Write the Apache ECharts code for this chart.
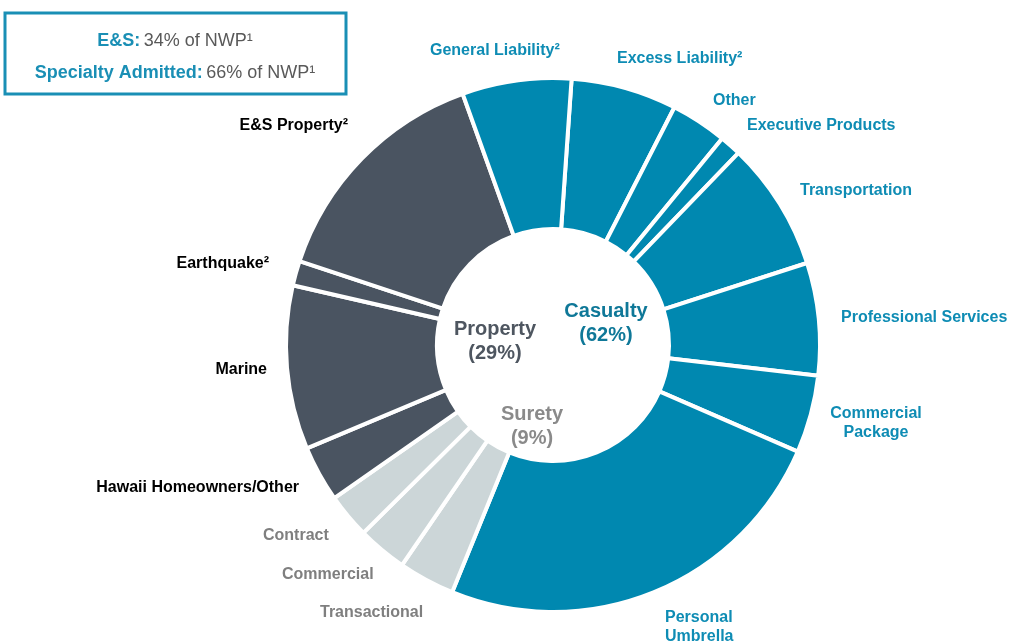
<!DOCTYPE html>
<html>
<head>
<meta charset="utf-8">
<script src="https://cdn.jsdelivr.net/npm/echarts@6/dist/echarts.min.js"></script>
<style>
html,body{margin:0;padding:0;background:#fff;}
#chart{width:1011px;height:643px;}
</style>
</head>
<body>
<div id="chart"></div>
<script>
// Segments, clockwise starting just right of 12 o'clock
const categories = ['Excess Liability²','Other','Executive Products','Transportation','Professional Services','Commercial\nPackage','Personal\nUmbrella','Transactional','Commercial','Contract','Hawaii Homeowners/Other','Marine','Earthquake²','E&S Property²','General Liability²'];
const values = [6.4,3.4,1.3,7.8,6.8,4.7,24.6,3.4,3.0,2.7,3.4,9.9,1.5,14.4,6.6];
const groups = ['Casualty','Casualty','Casualty','Casualty','Casualty','Casualty','Casualty','Surety','Surety','Surety','Property','Property','Property','Property','Casualty'];
const groupNames = ['Property','Casualty','Surety'];
const groupShares = ['29%','62%','9%'];
const mixLabels = [['E&S:','34% of NWP¹'],['Specialty Admitted:','66% of NWP¹']];

const FONT = '"Liberation Sans", Arial, sans-serif';
const fill = {Casualty:'#0088B0', Property:'#4A5461', Surety:'#CCD6D8'};
const labelColor = {Casualty:'#0E8CB4', Property:'#000000', Surety:'#7F7F7F'};
const centerColor = {Casualty:'#0F7898', Property:'#4E5660', Surety:'#8A8A8A'};

// label anchor placement (layout only)
const labelPlace = {
  'Excess Liability²':[617,59,'left'],
  'Other':[713,101,'left'],
  'Executive Products':[747,126,'left'],
  'Transportation':[800,191,'left'],
  'Professional Services':[841,318,'left'],
  'Commercial\nPackage':[876,423,'center'],
  'Personal\nUmbrella':[665,627,'left'],
  'Transactional':[320,613,'left'],
  'Commercial':[282,575,'left'],
  'Contract':[263,536,'left'],
  'Hawaii Homeowners/Other':[299,488,'right'],
  'Marine':[267,370,'right'],
  'Earthquake²':[269,264,'right'],
  'E&S Property²':[348,126,'right'],
  'General Liability²':[430,51,'left']
};
const centerPlace = {Property:[495,341], Casualty:[606,323], Surety:[532,426]};

const data = categories.map((c,i)=>({
  name:c, value:values[i],
  itemStyle:{color:fill[groups[i]]},
  label:{color:labelColor[groups[i]]}
}));

const chart = echarts.init(document.getElementById('chart'), null, {renderer:'canvas'});

const graphics = [
  {type:'rect', shape:{x:5,y:13,width:341,height:81}, style:{fill:'none', stroke:'#1A8FB5', lineWidth:3}},
];
mixLabels.forEach((m,i)=>{
  graphics.push({type:'text', x:175, y:41+i*32, style:{
    text:'{b|'+m[0]+'} {n|'+m[1]+'}', align:'center', verticalAlign:'middle',
    rich:{b:{fontFamily:FONT,fontSize:18,fontWeight:'bold',fill:'#1A8FB5'}, n:{fontFamily:FONT,fontSize:18,fill:'#595959'}}
  }});
});
groupNames.forEach((g,i)=>{
  const p = centerPlace[g];
  graphics.push({type:'text', x:p[0], y:p[1], style:{
    text:g+'\n('+groupShares[i]+')', align:'center', verticalAlign:'middle',
    font:'bold 20px '+FONT, fill:centerColor[g], lineHeight:24
  }});
});

chart.setOption({
  animation:false,
  backgroundColor:'#fff',
  graphic:graphics,
  series:[{
    type:'pie',
    center:[553,345],
    radius:[116,267],
    startAngle:86,
    clockwise:true,
    avoidLabelOverlap:false,
    silent:true,
    itemStyle:{borderColor:'#fff', borderWidth:4},
    label:{show:true, position:'outside', fontFamily:FONT, fontSize:16, fontWeight:'bold', lineHeight:19, formatter:'{b}'},
    labelLine:{show:false},
    labelLayout:function(params){
      const p = labelPlace[categories[params.dataIndex]];
      return {x:p[0], y:p[1], align:p[2], verticalAlign:'middle'};
    },
    data:data
  }]
});
</script>
</body>
</html>
